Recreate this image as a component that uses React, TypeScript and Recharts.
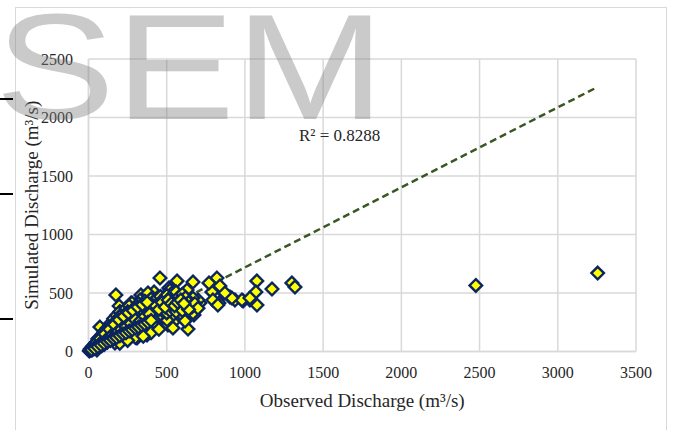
import React from 'react';
import { ScatterChart, Scatter, XAxis, YAxis, CartesianGrid, ReferenceLine } from 'recharts';

const observed = [
  3255, 2476, 1300, 1320, 1173, 1076, 1070, 1077, 1032, 988, 936, 904, 866, 834, 821, 789, 795, 770, 840, 712,
  668, 674, 636, 566, 457, 175, 700, 510, 542, 981, 1032, 917, 872, 827,
  419, 335, 272, 196, 514, 482, 175, 67, 246, 310, 368, 431, 208, 112, 54, 450, 521, 630, 668, 553,
  585, 521, 476, 668, 598, 540, 476, 508, 617, 329, 380, 278, 201, 297, 361, 438, 425, 502, 534, 566,
  502, 540, 169, 73, 137, 61, 169, 246, 310, 374, 661,
  120, 140, 160, 180, 200, 220, 240, 260, 280, 300, 320, 340, 360, 380, 400, 420, 440, 460, 480, 500,
  520, 540, 560, 580, 600, 620, 640, 660, 680, 700,
  100, 120, 140, 160, 180, 200, 220, 240, 260, 280, 300, 320, 340, 360, 380, 400, 420, 440, 460, 480,
  500, 520, 560, 600, 640, 200, 300, 400, 450, 350, 250,
  130, 150, 170, 190, 210, 230, 250, 270, 290, 310, 330, 350, 370, 390, 410, 430, 450, 470, 490, 510,
  530, 550, 570, 590, 610,
  5, 10, 15, 20, 25, 30, 35, 40, 45, 50, 55, 60, 65, 70, 75, 80, 85, 90, 95, 100,
  105, 110, 115, 120, 125, 130, 135, 140, 145, 150, 155, 160, 165, 170, 175, 180, 185, 190, 195, 200,
  210, 220, 230, 240, 250, 260, 270, 280, 290, 300,
  30, 45, 60, 75, 90, 105, 120, 135, 150, 165, 180, 195, 210, 225, 240, 255, 270, 285, 300, 315,
  330, 345, 360, 375, 390,
  20, 40, 60, 80, 100, 120, 140, 160, 180, 200, 220, 240, 260, 280, 300, 320, 340, 360, 380, 400,
];
const simulated = [
  670, 565, 586, 551, 534, 603, 509, 397, 440, 432, 440, 466, 500, 415, 628, 509, 440, 586, 560, 415,
  594, 312, 192, 603, 628, 483, 440, 244, 252, 440, 457, 457, 500, 397,
  509, 483, 415, 389, 543, 397, 269, 98, 269, 269, 201, 329, 124, 167, 13, 423, 526, 526, 457, 457,
  380, 397, 397, 329, 312, 312, 286, 227, 261, 440, 500, 415, 338, 227, 209, 295, 415, 415, 500, 372,
  269, 201, 227, 209, 141, 98, 72, 124, 115, 141, 380,
  200, 240, 280, 310, 340, 330, 370, 390, 350, 380, 410, 390, 430, 410, 450, 430, 460, 470, 450, 480,
  460, 440, 510, 470, 490, 460, 420, 390, 410, 370,
  60, 80, 100, 110, 130, 150, 170, 180, 200, 190, 220, 240, 250, 270, 260, 280, 250, 300, 320, 340,
  330, 350, 340, 350, 360, 70, 120, 160, 190, 130, 95,
  180, 200, 190, 250, 230, 260, 300, 320, 280, 330, 350, 320, 360, 340, 370, 390, 360, 420, 380, 440,
  410, 390, 420, 440, 410,
  5, 20, 10, 35, 15, 50, 25, 60, 30, 80, 40, 110, 55, 120, 70, 100, 50, 150, 80, 170,
  120, 180, 90, 140, 100, 200, 160, 120, 190, 150, 220, 170, 200, 140, 260, 220, 180, 270, 160, 300,
  200, 270, 300, 220, 340, 250, 320, 280, 360, 300,
  30, 70, 60, 110, 90, 150, 110, 190, 140, 230, 160, 270, 190, 300, 210, 330, 240, 350, 270, 380,
  260, 400, 300, 420, 320,
  15, 25, 40, 55, 70, 85, 95, 110, 120, 135, 150, 160, 175, 185, 200, 210, 225, 235, 250, 265,
];
const xTicks = [0, 500, 1000, 1500, 2000, 2500, 3000, 3500];
const yTicks = [0, 500, 1000, 1500, 2000, 2500];
const trendStart = { x: 0, y: 35 };
const trendEnd = { x: 3255, y: 2261 };

const points = observed.map((x, i) => ({ x, y: simulated[i] }));

const serif = '"Liberation Serif", "Times New Roman", serif';

const Diamond = (props: any) => {
  const { cx, cy } = props;
  const r = 6.3;
  return (
    <polygon
      points={`${cx},${cy - r} ${cx + r},${cy} ${cx},${cy + r} ${cx - r},${cy}`}
      fill="#ffff00"
      stroke="#0b2560"
      strokeWidth={2.4}
    />
  );
};

const XTitle = (props: any) => {
  const { x, y, width } = props.viewBox;
  return (
    <text x={x + width / 2} y={y + 55.5} textAnchor="middle" fontFamily={serif} fontSize={19} fill="#262626">
      Observed Discharge (m³/s)
    </text>
  );
};

const YTitle = (props: any) => {
  const { y, height } = props.viewBox;
  const cy = y + height / 2;
  return (
    <text
      x={31}
      y={cy}
      transform={`rotate(-90, 31, ${cy})`}
      textAnchor="middle"
      dominantBaseline="central"
      fontFamily={serif}
      fontSize={19}
      fill="#262626"
    >
      Simulated Discharge (m³/s)
    </text>
  );
};

const tickStyle = { fontFamily: serif, fontSize: 16, fill: '#262626' };

export default function App() {
  return (
    <div style={{ position: 'absolute', left: 0, top: 0, width: 673, height: 430, overflow: 'hidden', background: '#fff' }}>
      <div style={{ position: 'absolute', left: 15, top: 7, width: 650, height: 440, border: '1px solid #d9d9d9' }} />
      <ScatterChart width={673} height={430} margin={{ top: 59, right: 37, bottom: 48.5, left: 28.5 }}>
        <CartesianGrid stroke="#d9d9d9" strokeWidth={1.5} />
        <XAxis
          type="number"
          dataKey="x"
          domain={[0, 3500]}
          ticks={xTicks}
          height={30}
          tickSize={0}
          tickMargin={15}
          tickLine={false}
          axisLine={{ stroke: '#d9d9d9', strokeWidth: 1.5 }}
          tick={tickStyle}
          label={<XTitle />}
        />
        <YAxis
          type="number"
          dataKey="y"
          domain={[0, 2500]}
          ticks={yTicks}
          width={60}
          tickSize={0}
          tickMargin={15.5}
          tickLine={false}
          axisLine={{ stroke: '#d9d9d9', strokeWidth: 1.5 }}
          tick={tickStyle}
          label={<YTitle />}
        />
        <Scatter data={points} shape={<Diamond />} isAnimationActive={false} />
        <ReferenceLine
          segment={[trendStart, trendEnd]}
          stroke="#385723"
          strokeWidth={2.5}
          strokeDasharray="7 4"
        />
      </ScatterChart>
      <div
        style={{
          position: 'absolute', left: 299, top: 126, fontFamily: serif, fontSize: 17, color: '#262626',
          lineHeight: '20px', whiteSpace: 'nowrap',
        }}
      >
        R² = 0.8288
      </div>
      <div
        style={{
          position: 'absolute', left: -5, top: -8, fontFamily: '"Liberation Sans", Arial, sans-serif', fontSize: 150,
          lineHeight: '150px', color: 'rgba(128,128,128,0.42)', transform: 'scaleX(1.2)', transformOrigin: 'left top',
          whiteSpace: 'nowrap', pointerEvents: 'none',
        }}
      >
        SEM
      </div>
      <div style={{ position: 'absolute', left: 0, top: 98, width: 13, height: 2, background: '#000' }} />
      <div style={{ position: 'absolute', left: 0, top: 193, width: 13, height: 2, background: '#000' }} />
      <div style={{ position: 'absolute', left: 0, top: 318, width: 13, height: 2, background: '#000' }} />
    </div>
  );
}
